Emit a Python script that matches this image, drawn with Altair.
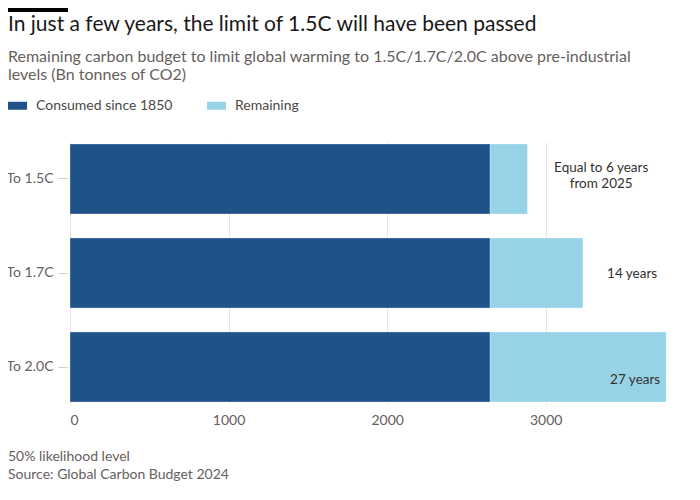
import altair as alt
import pandas as pd

categories = ["To 1.5C", "To 1.7C", "To 2.0C"]
consumed = [2650, 2650, 2650]
remaining = [235, 585, 1110]
series = ["Consumed since 1850", "Remaining"]
colors = ["#1f5289", "#96d3e6"]
x_ticks = [0, 1000, 2000, 3000]
x_max = 3765

ann_text = [["Equal to 6 years", "from 2025"], "14 years", "27 years"]
ann_x = [3350, 3545, 3564]
ann_dy = [-11, 1, 13]

FONT = "Lato, sans-serif"

rows = []
for c, a, b in zip(categories, consumed, remaining):
    rows.append({"cat": c, "series": series[0], "value": a, "ord": 0})
    rows.append({"cat": c, "series": series[1], "value": b, "ord": 1})
df = pd.DataFrame(rows)

W, H = 597, 262
y_scale = alt.Scale(domain=categories, paddingInner=0.255, paddingOuter=0.021)

bars = alt.Chart(df).mark_bar(stroke="white", strokeWidth=0.6, strokeOpacity=0.5).encode(
    y=alt.Y("cat:N", scale=y_scale, title=None,
            axis=alt.Axis(domain=False, ticks=True, tickSize=10, tickColor="#d9d0c8", offset=2,
                          labelPadding=5, labelFontSize=14, labelColor="#66605c", labelFont=FONT,
                          grid=False)),
    x=alt.X("value:Q", stack="zero", title=None,
            scale=alt.Scale(domain=[0, x_max], nice=False),
            axis=alt.Axis(values=x_ticks, domain=False, ticks=False, grid=True, gridColor="#ebe4de",
                          labelPadding=9, labelFontSize=14, labelColor="#66605c", labelFont=FONT,
                          format="d")),
    color=alt.Color("series:N", scale=alt.Scale(domain=series, range=colors),
                    legend=alt.Legend(orient="none", legendX=-62, legendY=-46, direction="horizontal",
                                      title=None, symbolType="M-1,-0.42H1V0.42H-1Z", symbolSize=361,
                                      symbolStrokeWidth=0, labelFontSize=14, labelColor="#4d4845",
                                      labelFont=FONT, labelOffset=9, columnPadding=34)),
    order=alt.Order("ord:Q"),
)

layers = [bars]
for i in range(3):
    d = pd.DataFrame({"cat": [categories[i]], "x": [ann_x[i]], "t": [ann_text[i]]})
    layers.append(
        alt.Chart(d).mark_text(fontSize=13.5, font=FONT, color="#33302e", align="center",
                               baseline="middle", dy=ann_dy[i], lineHeight=16).encode(
            y=alt.Y("cat:N", scale=y_scale), x=alt.X("x:Q"), text="t"
        )
    )

def label(text, x, y, size, color, weight="normal"):
    return alt.Chart(pd.DataFrame({"t": [text]})).mark_text(
        align="left", baseline="middle", fontSize=size, font=FONT, color=color, fontWeight=weight
    ).encode(x=alt.value(x), y=alt.value(y), text="t")

header = [
    alt.Chart(pd.DataFrame({"a": [0]})).mark_rect(color="#000000").encode(
        x=alt.value(-62), x2=alt.value(-2), y=alt.value(-134), y2=alt.value(-130)),
    label("In just a few years, the limit of 1.5C will have been passed", -62, -117, 21, "#1a1817"),
    label("Remaining carbon budget to limit global warming to 1.5C/1.7C/2.0C above pre-industrial", -62, -85, 16, "#66605c"),
    label("levels (Bn tonnes of CO2)", -62, -67, 16, "#66605c"),
    label("50% likelihood level", -62, 315, 14, "#66605c"),
    label("Source: Global Carbon Budget 2024", -62, 333, 14, "#66605c"),
]

chart = alt.layer(*layers, *header).properties(
    width=W, height=H,
    autosize=alt.AutoSizeParams(type="none"),
    padding={"left": 62, "top": 134, "right": 20, "bottom": 85},
    background="white",
).configure_view(stroke=None)

chart.save("out.html", embed_options={"renderer": "svg", "actions": False})
